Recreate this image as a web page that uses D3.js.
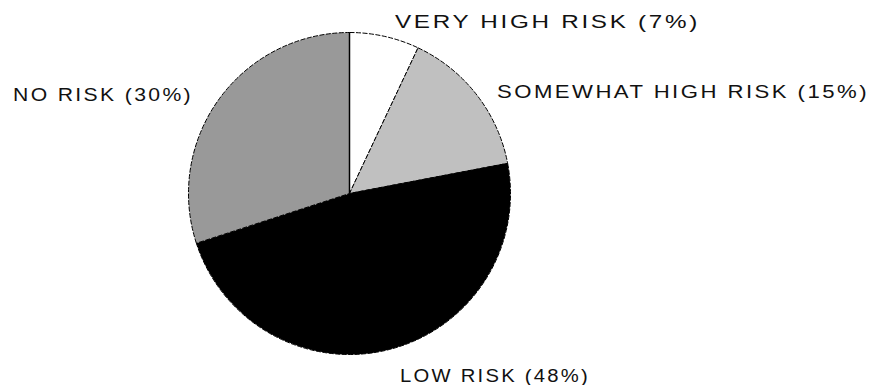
<!DOCTYPE html>
<html>
<head>
<meta charset="utf-8">
<script src="https://cdn.jsdelivr.net/npm/d3@7"></script>
<style>
  html, body { margin: 0; padding: 0; background: #fff; }
  svg { display: block; }
  .label { font-family: "Liberation Sans", Arial, sans-serif; font-size: 18px; fill: #111; letter-spacing: 2px; }
</style>
</head>
<body>
<svg id="chart" width="874" height="385"></svg>
<script>
// Risk categories, clockwise from 12 o'clock
const categories = ["VERY HIGH RISK", "SOMEWHAT HIGH RISK", "LOW RISK", "NO RISK"];
const shares = [7, 15, 48, 30];

const width = 874, height = 385;
const cx = 349.5, cy = 193.5, radius = 161;

const fill = d3.scaleOrdinal()
  .domain(categories)
  .range(["#ffffff", "#c0c0c0", "#000000", "#999999"]);

// Label placement: left x, baseline y, rendered width
const labelLayout = {
  "VERY HIGH RISK":     { x: 395, y: 28,  w: 305 },
  "SOMEWHAT HIGH RISK": { x: 497, y: 98,  w: 372 },
  "LOW RISK":           { x: 400, y: 382, w: 190 },
  "NO RISK":            { x: 13,  y: 101, w: 180 }
};

const svg = d3.select("#chart");
const g = svg.append("g").attr("transform", `translate(${cx},${cy})`);

const pie = d3.pie().sort(null).value(d => d.value);
const arc = d3.arc().innerRadius(0).outerRadius(radius);

const data = categories.map((c, i) => ({ name: c, value: shares[i] }));
const arcs = pie(data);

g.selectAll("path.slice")
  .data(arcs)
  .join("path")
  .attr("class", "slice")
  .attr("d", arc)
  .attr("fill", d => fill(d.data.name))
  .attr("stroke", "#000")
  .attr("stroke-width", 1)
  .attr("stroke-dasharray", "5,1.5")
  .attr("stroke-linejoin", "round");

// Solid radius at the starting edge of the first slice
const a0 = arcs[0].startAngle;
g.append("line")
  .attr("x1", 0).attr("y1", 0)
  .attr("x2", radius * Math.sin(a0))
  .attr("y2", -radius * Math.cos(a0))
  .attr("stroke", "#000")
  .attr("stroke-width", 1.5);

svg.selectAll("text.label")
  .data(data)
  .join("text")
  .attr("class", "label")
  .attr("x", d => labelLayout[d.name].x)
  .attr("y", d => labelLayout[d.name].y)
  .attr("textLength", d => labelLayout[d.name].w)
  .attr("lengthAdjust", "spacingAndGlyphs")
  .text(d => `${d.name} (${d.value}%)`);
</script>
</body>
</html>
